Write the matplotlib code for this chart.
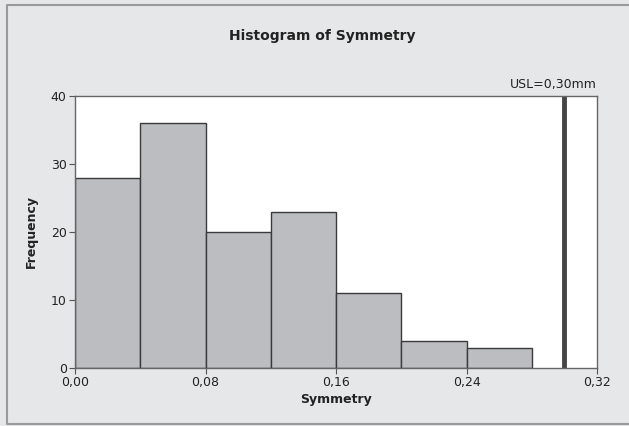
import matplotlib.pyplot as plt
from matplotlib.lines import Line2D

# Histogram bins (mm) and counts
bin_edges = [0.00, 0.04, 0.08, 0.12, 0.16, 0.20, 0.24, 0.28]
counts = [28, 36, 20, 23, 11, 4, 3]
usl = 0.30
x_ticks = [0.00, 0.08, 0.16, 0.24, 0.32]
x_labels = ['0,00', '0,08', '0,16', '0,24', '0,32']
y_ticks = [0, 10, 20, 30, 40]

plt.rcParams['font.family'] = ['DejaVu Sans']

fig = plt.figure(figsize=(6.29, 4.26), dpi=100, facecolor='#e6e7e9')
W, H = 629, 426

# outer frame: left, top and bottom edges only
x0, y0, y1 = 7 / W, 2 / H, 1 - 5 / H
fig.lines.append(Line2D([1.01, x0, x0, 1.01], [y1, y1, y0, y0], transform=fig.transFigure,
                        color='#9a9a9a', linewidth=1.5, zorder=-1))

ax = fig.add_axes([75 / W, 1 - 368 / H, (597 - 75) / W, (368 - 96) / H])
ax.set_facecolor('white')

widths = [bin_edges[i + 1] - bin_edges[i] for i in range(len(counts))]
ax.bar(bin_edges[:-1], counts, width=widths, align='edge',
       color='#bcbdc1', edgecolor='#3a3a3a', linewidth=1.0)

ax.axvline(usl, color='#454545', linewidth=3.5)
ax.text(0.32, 40.8, 'USL=0,30mm', ha='right', va='bottom', fontsize=9, color='#222222')

ax.set_xlim(0, 0.32)
ax.set_ylim(0, 40)
ax.set_xticks(x_ticks)
ax.set_xticklabels(x_labels)
ax.set_yticks(y_ticks)
ax.tick_params(direction='out', length=4, width=0.8, colors='#555555',
               labelsize=9, labelcolor='#222222', pad=2)

for side in ['top', 'right', 'bottom', 'left']:
    ax.spines[side].set_color('#666666')
    ax.spines[side].set_linewidth(1.0)

ax.set_xlabel('Symmetry', fontsize=9, fontweight='bold', color='#222222', labelpad=3)
ax.set_ylabel('Frequency', fontsize=9, fontweight='bold', color='#222222', labelpad=9)

fig.text(322 / W, 1 - 36 / H, 'Histogram of Symmetry', ha='center', va='center',
         fontsize=10, fontweight='bold', color='#222222')

fig.savefig('out.png', dpi=100, facecolor=fig.get_facecolor())
